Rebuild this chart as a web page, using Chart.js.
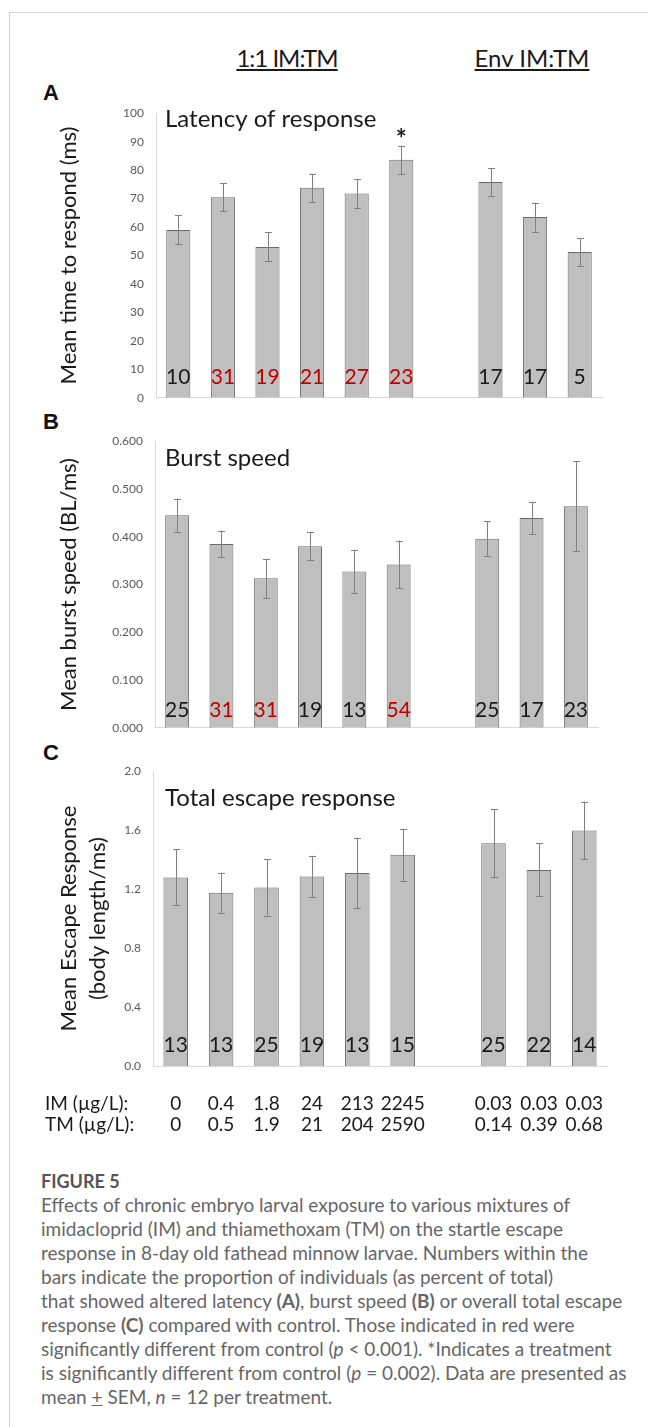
<!DOCTYPE html>
<html>
<head>
<meta charset="utf-8">
<script src="https://cdn.jsdelivr.net/npm/chart.js@4.4.1/dist/chart.umd.min.js"></script>
<style>
    html, body { margin: 0; padding: 0; background: #fff; }
    body { width: 648px; height: 1427px; position: relative; overflow: hidden; font-family: Lato, sans-serif; }
    .frame { position: absolute; left: 9px; top: 12px; width: 700px; height: 1500px; border-top: 1px solid #d4d4d4; border-left: 1px solid #d4d4d4; }
    .group { position: absolute; top: 46px; font-size: 24px; line-height: 24px; color: #1a1a1a; white-space: nowrap;
             transform: translateX(-50%); text-decoration: underline; text-decoration-thickness: 2px; text-underline-offset: 2px; }
    .letter { position: absolute; left: 43px; font: bold 22px 'Liberation Sans', Arial, sans-serif; line-height: 22px; color: #111; }
    canvas { position: absolute; left: 0; }
    .caption { position: absolute; left: 41px; top: 1169px; line-height: 24px; color: #666; font-size: 19px; white-space: nowrap; }
    .caption .fig { font-weight: bold; font-size: 18px; color: #555; }
</style>
</head>
<body>
<div class="frame"></div>
<div class="group" style="left:287px; letter-spacing:-1px">1:1 IM:TM</div>
<div class="group" style="left:532px">Env IM:TM</div>
<div class="letter" style="top:82px">A</div>
<div class="letter" style="top:411px">B</div>
<div class="letter" style="top:742px">C</div>

<canvas id="latencyChart" width="648" height="323" style="top:94px"></canvas>
<canvas id="burstChart" width="648" height="325" style="top:422px"></canvas>
<canvas id="escapeChart" width="648" height="394" style="top:752px"></canvas>

<div class="caption">
    <div class="fig">FIGURE 5</div>
    <div>Effects of chronic embryo larval exposure to various mixtures of</div>
    <div>imidacloprid (IM) and thiamethoxam (TM) on the startle escape</div>
    <div>response in 8-day old fathead minnow larvae. Numbers within the</div>
    <div>bars indicate the proportion of individuals (as percent of total)</div>
    <div>that showed altered latency <b>(A)</b>, burst speed <b>(B)</b> or overall total escape</div>
    <div>response <b>(C)</b> compared with control. Those indicated in red were</div>
    <div>significantly different from control (<i>p</i> &lt; 0.001). *Indicates a treatment</div>
    <div>is significantly different from control (<i>p</i> = 0.002). Data are presented as</div>
    <div>mean <u>+</u> SEM, <i>n</i> = 12 per treatment.</div>
</div>

<script>
// treatments (index 6 is the empty gap between the two mixture groups)
const imLabels = ['0', '0.4', '1.8', '24', '213', '2245', '', '0.03', '0.03', '0.03'];
const tmLabels = ['0', '0.5', '1.9', '21', '204', '2590', '', '0.14', '0.39', '0.68'];

// A - latency
const latencyMeans = [59.0, 70.5, 53.0, 73.8, 71.8, 83.6, null, 75.8, 63.5, 51.2];
const latencyErr = [5.1, 4.9, 5.1, 4.9, 5.2, 5.0, null, 4.9, 5.1, 4.9];
const latencyPct = ['10', '31', '19', '21', '27', '23', '', '17', '17', '5'];
const latencyRed = [false, true, true, true, true, true, false, false, false, false];
const latencyStars = ['', '', '', '', '', '*', '', '', '', ''];

// B - burst speed
const burstMeans = [0.445, 0.385, 0.313, 0.380, 0.327, 0.342, null, 0.396, 0.439, 0.464];
const burstErr = [0.035, 0.028, 0.041, 0.029, 0.045, 0.050, null, 0.036, 0.034, 0.094];
const burstPct = ['25', '31', '31', '19', '13', '54', '', '25', '17', '23'];
const burstRed = [false, true, true, false, false, true, false, false, false, false];

// C - total escape response
const escapeMeans = [1.279, 1.176, 1.211, 1.286, 1.310, 1.433, null, 1.512, 1.330, 1.598];
const escapeErr = [0.19, 0.136, 0.19, 0.14, 0.24, 0.176, null, 0.23, 0.18, 0.195];
const escapePct = ['13', '13', '25', '19', '13', '15', '', '25', '22', '14'];
const escapeRed = [false, false, false, false, false, false, false, false, false, false];

const rowHeads = ['IM (\u00b5g/L):', 'TM (\u00b5g/L):'];

Chart.defaults.font.family = 'Lato, sans-serif';

// error bars, numbers in the bars, asterisk, panel title, row heads
const panelDecor = {
    id: 'panelDecor',
    afterDatasetsDraw(chart, args, opts) {
        const ctx = chart.ctx;
        const y = chart.scales.y;
        const area = chart.chartArea;
        const values = chart.data.datasets[0].data;
        const bars = chart.getDatasetMeta(0).data;
        ctx.save();
        bars.forEach((bar, i) => {
            if (values[i] == null) return;
            const x = Math.round(bar.x) + 0.5;
            const top = y.getPixelForValue(values[i] + opts.errors[i]);
            const bot = y.getPixelForValue(values[i] - opts.errors[i]);
            ctx.strokeStyle = '#808080';
            ctx.lineWidth = 1;
            ctx.beginPath();
            ctx.moveTo(x, top); ctx.lineTo(x, bot);
            ctx.moveTo(x - 3.5, Math.round(top) + 0.5); ctx.lineTo(x + 3.5, Math.round(top) + 0.5);
            ctx.moveTo(x - 3.5, Math.round(bot) + 0.5); ctx.lineTo(x + 3.5, Math.round(bot) + 0.5);
            ctx.stroke();

            ctx.font = '21px Lato';
            ctx.textAlign = 'center';
            ctx.textBaseline = 'alphabetic';
            ctx.fillStyle = opts.red[i] ? '#c00000' : '#1a1a1a';
            ctx.fillText(opts.pct[i], bar.x, area.bottom - opts.pctOffset);

            if (opts.stars && opts.stars[i]) {
                ctx.font = 'bold 26px Lato';
                ctx.fillStyle = '#1a1a1a';
                ctx.fillText(opts.stars[i], bar.x, top + 2);
            }
        });
        ctx.font = '24px Lato';
        ctx.textAlign = 'left';
        ctx.fillStyle = '#1a1a1a';
        ctx.fillText(opts.title, 165, area.top + opts.titleOffset);

        if (opts.rowHeads) {
            const xs = chart.scales.x;
            ctx.font = '19px Lato';
            ctx.textBaseline = 'middle';
            opts.rowHeads.forEach((t, i) => {
                ctx.fillText(t, 45, xs.top + 27 + 21.5 / 2 + i * 21.5);
            });
        }
        ctx.restore();
    }
};

function makePanel(id, p) {
    const ctx = document.getElementById(id);
    return new Chart(ctx, {
        type: 'bar',
        data: {
            labels: p.labels,
            datasets: [{
                data: p.means,
                backgroundColor: '#bfbfbf',
                borderColor: '#6b6b6b',
                borderWidth: 1,
                barPercentage: 0.54,
                categoryPercentage: 1
            }]
        },
        options: {
            responsive: false,
            animation: false,
            devicePixelRatio: 1,
            events: [],
            layout: { padding: { top: 10, bottom: p.padBottom, left: 0, right: p.padRight } },
            plugins: {
                legend: { display: false },
                tooltip: { enabled: false },
                panelDecor: {
                    errors: p.errors, pct: p.pct, red: p.red, stars: p.stars,
                    pctOffset: p.pctOffset, title: p.title, titleOffset: p.titleOffset,
                    rowHeads: p.rowHeads
                }
            },
            scales: {
                x: {
                    grid: { display: false, drawTicks: false },
                    border: { display: true, color: '#d9d9d9', width: 1 },
                    ticks: p.xTicks || { display: false },
                    afterFit: s => { s.height = p.xHeight; }
                },
                y: {
                    min: 0,
                    max: p.max,
                    grid: { display: false, drawTicks: false },
                    border: { display: true, color: '#d9d9d9', width: 1 },
                    ticks: {
                        stepSize: p.step,
                        padding: 12,
                        color: '#595959',
                        font: { size: 12 },
                        callback: v => p.fmt(v)
                    },
                    title: {
                        display: true,
                        text: p.yTitle,
                        color: '#1a1a1a',
                        font: { size: 22, lineHeight: p.titleLine },
                        padding: { top: p.yTitlePad, bottom: 0 }
                    },
                    afterFit: s => { s.width = p.yWidth; }
                }
            }
        },
        plugins: [panelDecor]
    });
}

document.addEventListener('DOMContentLoaded', () => {
    makePanel('latencyChart', {
        labels: imLabels, means: latencyMeans, errors: latencyErr,
        pct: latencyPct, red: latencyRed, stars: latencyStars,
        max: 100, step: 10, fmt: v => String(v),
        yTitle: 'Mean time to respond (ms)', titleLine: 1.2, yTitlePad: 56,
        yWidth: 156, padRight: 46, padBottom: 10, xHeight: 0,
        pctOffset: 14, title: 'Latency of response', titleOffset: 14
    });

    makePanel('burstChart', {
        labels: imLabels, means: burstMeans, errors: burstErr,
        pct: burstPct, red: burstRed,
        max: 0.6, step: 0.1, fmt: v => v.toFixed(3),
        yTitle: 'Mean burst speed (BL/ms)', titleLine: 1.2, yTitlePad: 56,
        yWidth: 155, padRight: 50, padBottom: 10, xHeight: 0,
        pctOffset: 11, title: 'Burst speed', titleOffset: 25
    });

    makePanel('escapeChart', {
        labels: imLabels.map((im, i) => [im, tmLabels[i]]),
        means: escapeMeans, errors: escapeErr,
        pct: escapePct, red: escapeRed,
        max: 2.0, step: 0.4, fmt: v => v.toFixed(1),
        yTitle: ['Mean Escape Response', '(body length/ms)'], titleLine: 1.34, yTitlePad: 54,
        yWidth: 153, padRight: 41, padBottom: 0, xHeight: 80,
        pctOffset: 14, title: 'Total escape response', titleOffset: 35,
        rowHeads: rowHeads,
        xTicks: {
            display: true, autoSkip: false, maxRotation: 0, padding: 27,
            color: '#1a1a1a', font: { size: 19, lineHeight: 21.5 / 19 }
        }
    });
});
</script>
</body>
</html>
